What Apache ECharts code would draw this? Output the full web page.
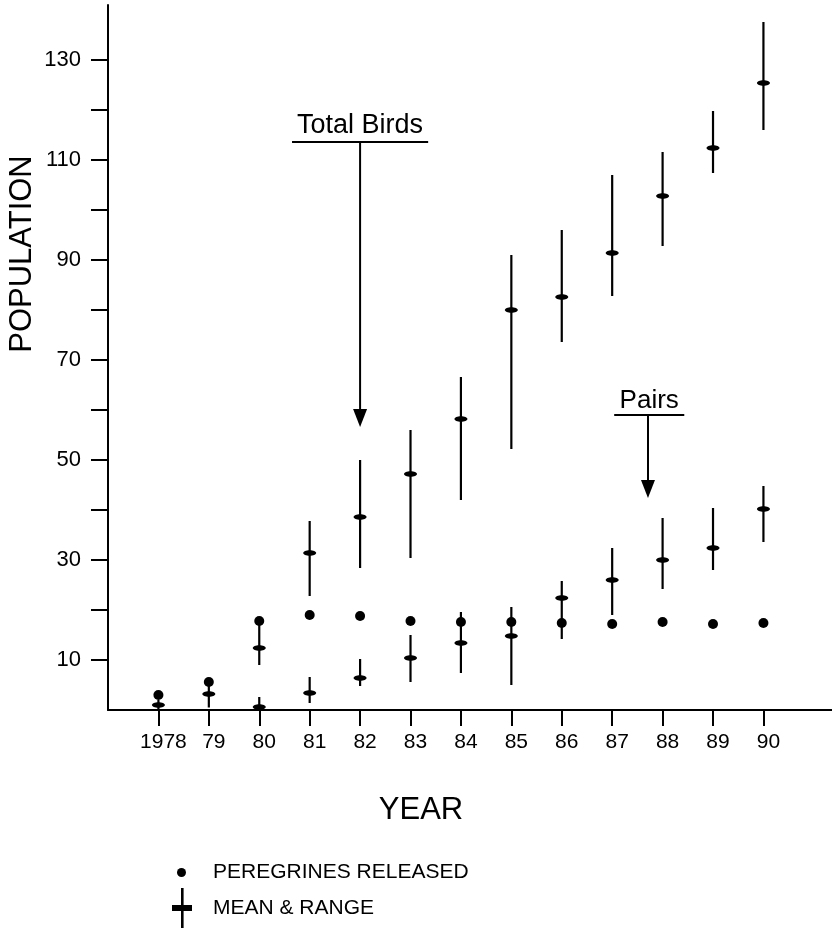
<!DOCTYPE html>
<html>
<head>
<meta charset="utf-8">
<script src="https://cdn.jsdelivr.net/npm/echarts@6/dist/echarts.min.js"></script>
<style>
  * { margin: 0; padding: 0; }
  html, body { background: #fff; }
</style>
</head>
<body>
<div id="main" style="width: 832px;height: 930px;background:#fff"></div>
<script>
// years on the x axis
const years = [1978, 1979, 1980, 1981, 1982, 1983, 1984, 1985, 1986, 1987, 1988, 1989, 1990];
// peregrines released each year (dots)
const released = [3, 5.6, 17.8, 19, 18.8, 17.8, 17.6, 17.6, 17.4, 17.2, 17.6, 17.2, 17.4];
// total birds: mean, low, high
const totalMean = [1, 3.2, 12.4, 31.4, 38.6, 47.2, 58.2, 80, 82.6, 91.4, 102.8, 112.4, 125.4];
const totalLow  = [0, 0.5, 9, 22.8, 28.4, 30.4, 42, 52.2, 73.6, 82.8, 92.8, 107.4, 116];
const totalHigh = [2, 4.8, 17, 37.8, 50, 56, 66.6, 91, 96, 107, 111.6, 119.8, 137.6];
// pairs: mean, low, high (none drawn for 1978/79)
const pairsMean = [null, null, 0.6, 3.4, 6.4, 10.4, 13.4, 14.8, 22.4, 26, 30, 32.4, 40.2];
const pairsLow  = [null, null, 0, 1.4, 4.8, 5.6, 7.4, 5, 14.2, 19, 24.2, 28, 33.6];
const pairsHigh = [null, null, 2.6, 6.6, 10.2, 15, 19.6, 20.6, 25.8, 32.4, 38.4, 40.4, 44.8];
// y axis labels and ticks
const yLabels = [10, 30, 50, 70, 90, 110, 130];
const yTicks = [10, 20, 30, 40, 50, 60, 70, 80, 90, 100, 110, 120, 130];

const FONT = 'Liberation Sans';

const totalData = years.map((y, i) => [y, totalMean[i], totalLow[i], totalHigh[i]]);
const pairsData = years.map((y, i) => [y, pairsMean[i], pairsLow[i], pairsHigh[i]])
  .filter(d => d[1] != null);

function renderRange(params, api) {
  const x = api.value(0);
  const m = api.coord([x, api.value(1)]);
  const lo = api.coord([x, api.value(2)]);
  const hi = api.coord([x, api.value(3)]);
  return {
    type: 'group',
    children: [
      { type: 'line', shape: { x1: lo[0], y1: lo[1], x2: hi[0], y2: hi[1] },
        style: { stroke: '#000', lineWidth: 2.2 } },
      { type: 'ellipse', shape: { cx: m[0], cy: m[1], rx: 6.5, ry: 2.8 },
        style: { fill: '#000' } }
    ]
  };
}

const chart = echarts.init(document.getElementById('main'));
chart.setOption({
  animation: false,
  grid: { left: 108, right: 0, top: 5, bottom: 220 },
  xAxis: {
    type: 'value',
    min: 1977,
    max: 1991.36,
    splitLine: { show: false },
    axisLine: { lineStyle: { color: '#000', width: 2 } },
    axisTick: { customValues: years, length: 16, lineStyle: { color: '#000', width: 2 } },
    axisLabel: {
      customValues: years,
      margin: 22,
      fontSize: 21,
      fontFamily: FONT,
      color: '#000',
      padding: [0, 0, 0, 10],
      formatter: v => (v === 1978 ? '1978' : String(v).slice(2))
    }
  },
  yAxis: {
    type: 'value',
    min: 0,
    max: 141,
    splitLine: { show: false },
    axisLine: { show: true, lineStyle: { color: '#000', width: 2 } },
    axisTick: { show: true, customValues: yTicks, length: 17, lineStyle: { color: '#000', width: 2 } },
    axisLabel: {
      customValues: yLabels,
      margin: 27,
      fontSize: 22,
      fontFamily: FONT,
      color: '#000'
    }
  },
  legend: [
    {
      data: ['PEREGRINES RELEASED'],
      selectedMode: false,
      orient: 'vertical',
      padding: 0,
      left: 177,
      top: 862,
      icon: 'circle',
      itemWidth: 9,
      itemHeight: 9,
      textStyle: { fontSize: 21, fontFamily: FONT, color: '#000', padding: [0, 0, 0, 22] }
    },
    {
      data: ['MEAN & RANGE'],
      selectedMode: false,
      orient: 'vertical',
      padding: 0,
      left: 172,
      top: 888,
      icon: 'path://M9,0h2.6v40h-2.6z M0,17h20v6h-20z',
      itemWidth: 20,
      itemHeight: 40,
      textStyle: { fontSize: 21, fontFamily: FONT, color: '#000', padding: [8, 0, 0, 16] }
    }
  ],
  series: [
    {
      name: 'MEAN & RANGE',
      type: 'custom',
      renderItem: renderRange,
      itemStyle: { color: '#000' },
      encode: { x: 0, y: [1, 2, 3] },
      data: totalData
    },
    {
      name: 'MEAN & RANGE',
      type: 'custom',
      renderItem: renderRange,
      itemStyle: { color: '#000' },
      encode: { x: 0, y: [1, 2, 3] },
      data: pairsData
    },
    {
      name: 'PEREGRINES RELEASED',
      type: 'scatter',
      symbol: 'circle',
      symbolSize: 10,
      itemStyle: { color: '#000', opacity: 1 },
      z: 3,
      data: years.map((y, i) => [y, released[i]])
    }
  ]
});

// annotations, given in data units: label, arrow x, label y, line top, arrow tip, underline from/to
const notes = [
  { text: 'Total Birds', x: 1982, textY: 116.8, top: 113.6, tip: 56.6, from: 1980.65, to: 1983.35, size: 27 },
  { text: 'Pairs', x: 1987.71, textY: 61.8, top: 59, tip: 42.4, from: 1987.04, to: 1988.43, size: 26 }
];

const px = p => chart.convertToPixel({ gridIndex: 0 }, p);
const graphics = [
  { type: 'text', x: 22, y: 254, rotation: Math.PI / 2,
    style: { text: 'POPULATION', font: '31px "' + FONT + '"', fill: '#000', align: 'center', verticalAlign: 'middle' } },
  { type: 'text', x: 421, y: 810,
    style: { text: 'YEAR', font: '31px "' + FONT + '"', fill: '#000', align: 'center', verticalAlign: 'middle' } }
];
notes.forEach(n => {
  const t = px([(n.from + n.to) / 2, n.textY]);
  const a = px([n.from, n.top]);
  const b = px([n.to, n.top]);
  const tip = px([n.x, n.tip]);
  const top = px([n.x, n.top]);
  graphics.push(
    { type: 'text', x: t[0], y: t[1],
      style: { text: n.text, font: n.size + 'px "' + FONT + '"', fill: '#000', align: 'center', verticalAlign: 'middle' } },
    { type: 'line', shape: { x1: a[0], y1: a[1], x2: b[0], y2: b[1] }, style: { stroke: '#000', lineWidth: 2 } },
    { type: 'line', shape: { x1: top[0], y1: top[1], x2: tip[0], y2: tip[1] - 10 }, style: { stroke: '#000', lineWidth: 2 } },
    { type: 'polygon', shape: { points: [[tip[0] - 7, tip[1] - 18], [tip[0] + 7, tip[1] - 18], [tip[0], tip[1]]] },
      style: { fill: '#000' } }
  );
});
chart.setOption({ graphic: graphics });
</script>
</body>
</html>
